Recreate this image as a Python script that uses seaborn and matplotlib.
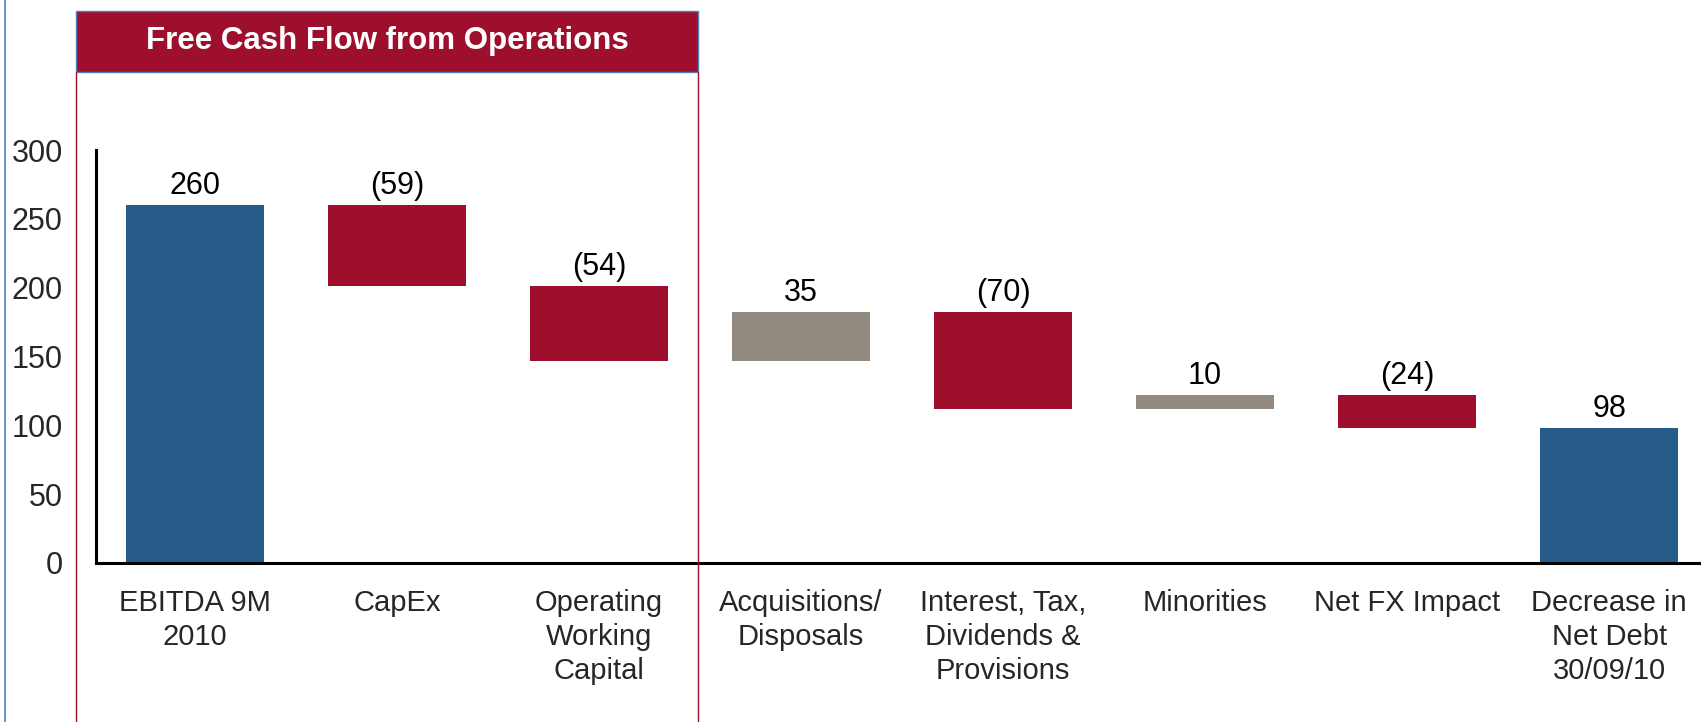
import pandas as pd
import matplotlib
matplotlib.use("Agg")
import matplotlib.pyplot as plt
import seaborn as sns
from matplotlib.patches import Rectangle
from matplotlib.lines import Line2D

# Datos del gráfico (cascada de deuda neta)
categorias = ["EBITDA 9M\n2010", "CapEx", "Operating\nWorking\nCapital", "Acquisitions/\nDisposals",
              "Interest, Tax,\nDividends &\nProvisions", "Minorities", "Net FX Impact",
              "Decrease in\nNet Debt\n30/09/10"]
variacion = [260, -59, -54, 35, -70, 10, -24, 98]
tipo = ["total", "neg", "neg", "pos", "neg", "pos", "neg", "total"]
etiquetas = ["260", "(59)", "(54)", "35", "(70)", "10", "(24)", "98"]
ticks_y = [0, 50, 100, 150, 200, 250, 300]
titulo_caja = "Free Cash Flow from Operations"

AZUL = "#265B8A"
ROJO = "#9E0F2D"
GRIS = "#928A80"
colores_tipo = {"total": AZUL, "neg": ROJO, "pos": GRIS}

# Calcular inicio y fin de cada barra
inicio, fin = [], []
acum = 0
for v, t in zip(variacion, tipo):
    if t == "total":
        inicio.append(0)
        fin.append(v)
        acum = v
    else:
        inicio.append(acum)
        acum += v
        fin.append(acum)

df = pd.DataFrame({"categoria": categorias, "inicio": inicio, "fin": fin, "tipo": tipo})
df["base"] = df[["inicio", "fin"]].min(axis=1)
df["cima"] = df[["inicio", "fin"]].max(axis=1)
df["alto"] = df["cima"] - df["base"]
paleta = {c: colores_tipo[t] for c, t in zip(categorias, tipo)}

# Estilo
sns.set_style("white")
plt.rcParams["font.family"] = ["Liberation Sans", "DejaVu Sans"]

W, H = 1701, 722
fig = plt.figure(figsize=(W / 100, H / 100), dpi=100)
ax = fig.add_axes([96 / W, (H - 563) / H, 1 - 96 / W, (563 - 150) / H])
ax.patch.set_alpha(0)

sns.barplot(data=df, x="categoria", y="cima", hue="categoria", palette=paleta,
            width=0.68, saturation=1, legend=False, ax=ax)

# Barras flotantes: mover la base de cada barra
for barra, b, h in zip(ax.patches, df["base"], df["alto"]):
    barra.set_y(b)
    barra.set_height(h)
    barra.set_edgecolor("none")

# Etiquetas de valor
for i, (c, txt) in enumerate(zip(df["cima"], etiquetas)):
    ax.annotate(txt, (i, c), xytext=(0, 8), textcoords="offset points",
                ha="center", va="baseline", fontsize=22, color="black")

ax.set_xlim(-0.49, 7.455)
ax.set_ylim(0, 300)
ax.set_yticks(ticks_y)
ax.set_xlabel("")
ax.set_ylabel("")
ax.tick_params(axis="y", length=0, pad=24, labelsize=22)
ax.tick_params(axis="x", length=0, pad=19, labelsize=21)
for lab in ax.get_xticklabels():
    lab.set_linespacing(1.27)

sns.despine(ax=ax, top=True, right=True)
for lado in ["left", "bottom"]:
    ax.spines[lado].set_linewidth(2.2)
    ax.spines[lado].set_color("black")

# Caja "Free Cash Flow from Operations"
x0, x1 = 76 / W, 698 / W
y0, y1 = 1 - 72 / H, 1 - 11 / H
fig.add_artist(Rectangle((x0, y0), x1 - x0, y1 - y0, transform=fig.transFigure,
                         facecolor=ROJO, edgecolor="#4F81BD", lw=1))
fig.text((x0 + x1) / 2, (y0 + y1) / 2, titulo_caja, color="white", fontsize=22.5,
         fontweight="bold", ha="center", va="center")
for xx in [x0, x1]:
    fig.add_artist(Line2D([xx, xx], [0, y0], transform=fig.transFigure, color=ROJO, lw=1))
fig.add_artist(Line2D([5 / W, 5 / W], [0, 1], transform=fig.transFigure, color="#4F81BD", lw=1.2))

fig.savefig("out.png", dpi=100)
